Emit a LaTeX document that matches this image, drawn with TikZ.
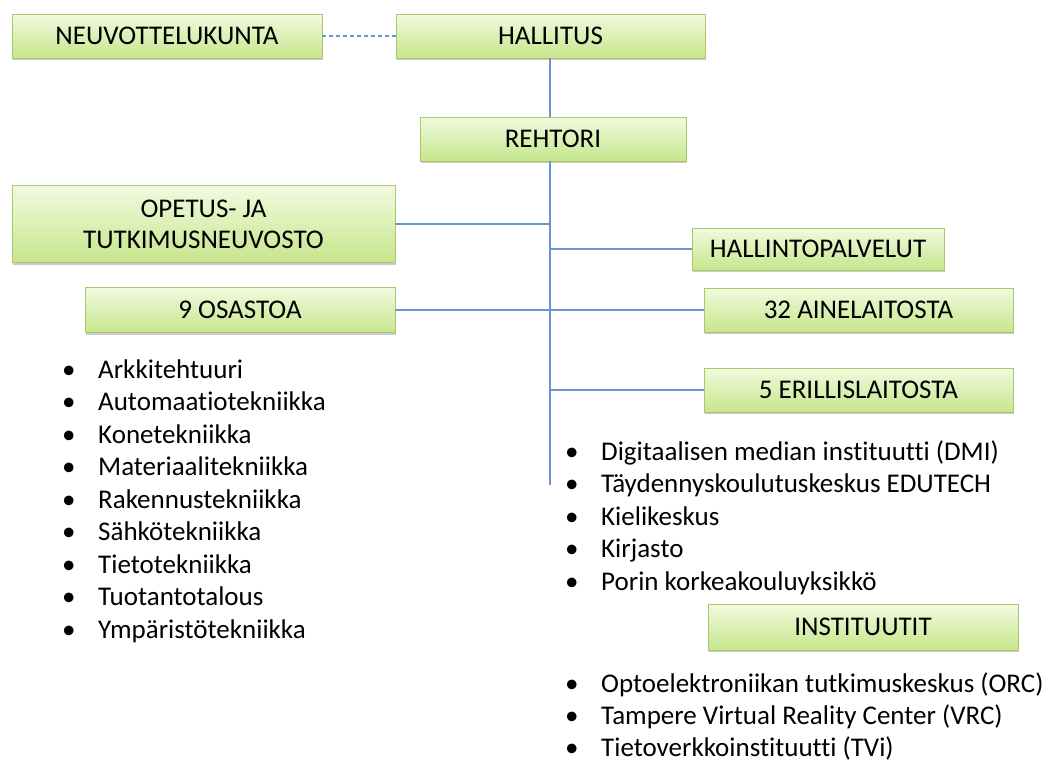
\documentclass[tikz,border=0pt]{standalone}
\usepackage{fontspec}
\setmainfont{Carlito}[Ligatures=NoCommon]
\usetikzlibrary{shadows}
\definecolor{boxtop}{HTML}{F1FADF}
\definecolor{boxbot}{HTML}{C6E68C}
\definecolor{boxline}{HTML}{A9C96A}
\definecolor{conn}{HTML}{6A95CC}
\tikzset{
  orgbox/.style={draw=boxline, line width=0.8pt, top color=boxtop, bottom color=boxbot,
    inner sep=0pt, align=center, font=\fontsize{27}{31}\selectfont,
    drop shadow={shadow xshift=0.8pt, shadow yshift=-2pt, opacity=0.35, fill=black!60}},
  conline/.style={draw=conn, line width=1.2pt},
  item/.style={anchor=base west, inner sep=0pt, font=\fontsize{27}{32.5}\selectfont}
}
\newcommand{\bl}{\makebox[36pt][l]{•}}
\begin{document}
\begin{tikzpicture}[x=1pt,y=-1pt]
\useasboundingbox (0,0) rectangle (1049,763);
\node[orgbox, minimum width=310pt, minimum height=44pt] (neuv) at (167,36) {NEUVOTTELUKUNTA};
\node[orgbox, minimum width=309pt, minimum height=44pt] (hall) at (550.5,36) {HALLITUS};
\node[orgbox, minimum width=266pt, minimum height=44pt] (reh) at (553,139) {REHTORI};
\node[orgbox, minimum width=383pt, minimum height=77pt] (opet) at (203.5,224) {OPETUS- JA\\TUTKIMUSNEUVOSTO};
\node[orgbox, minimum width=252pt, minimum height=42pt] (hpal) at (818,249) {HALLINTOPALVELUT};
\node[orgbox, minimum width=310pt, minimum height=45pt] (osa) at (240,310) {9 OSASTOA};
\node[orgbox, minimum width=309pt, minimum height=44pt] (ain) at (858.5,310) {32 AINELAITOSTA};
\node[orgbox, minimum width=309pt, minimum height=44pt] (eri) at (858.5,390) {5 ERILLISLAITOSTA};
\node[orgbox, minimum width=310pt, minimum height=46pt] (inst) at (863,627) {INSTITUUTIT};

\coordinate (vend) at (550,485);
\draw[conline, dashed, dash pattern=on 4pt off 3pt] (neuv.east) -- (hall.west);
\draw[conline] (vend |- hall.south) -- (vend |- reh.north);
\draw[conline] (vend |- reh.south) -- (vend);
\draw[conline] (opet.east) -- (opet.east -| vend);
\draw[conline] (hpal.west) -- (hpal.west -| vend);
\draw[conline] (osa.east) -- (osa.east -| vend);
\draw[conline] (ain.west) -- (ain.west -| vend);
\draw[conline] (eri.west) -- (eri.west -| vend);

\foreach \t [count=\i] in {Arkkitehtuuri, Automaatiotekniikka, Konetekniikka, Materiaalitekniikka, Rakennustekniikka, Sähkötekniikka, Tietotekniikka, Tuotantotalous, Ympäristötekniikka}
  \node[item] (osa\i) at (62,{378+32.5*(\i-1)}) {\bl \t};
\foreach \t [count=\i] in {Digitaalisen median instituutti (DMI), Täydennyskoulutuskeskus EDUTECH, Kielikeskus, Kirjasto, Porin korkeakouluyksikkö}
  \node[item] (eri\i) at (565,{460+32.5*(\i-1)}) {\bl \t};
\foreach \t [count=\i] in {Optoelektroniikan tutkimuskeskus (ORC), Tampere Virtual Reality Center (VRC), Tietoverkkoinstituutti (TVi)}
  \node[item] (ins\i) at (565,{692+32*(\i-1)}) {\bl \t};
\end{tikzpicture}
\end{document}
